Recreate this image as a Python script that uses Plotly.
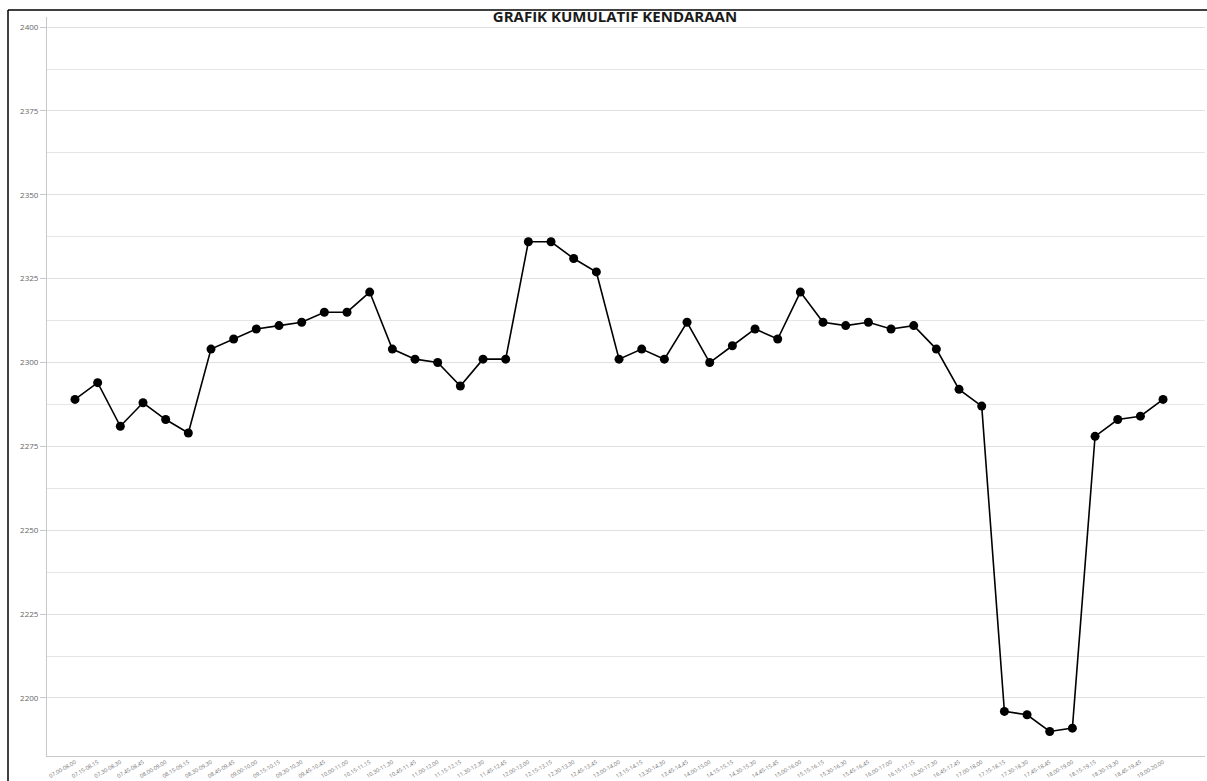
import plotly.graph_objects as go

# 15-minute rolling hourly intervals, 07.00-08.00 through 19.00-20.00
start_minutes = list(range(7 * 60, 19 * 60 + 1, 15))
interval_labels = [
    f"{m // 60:02d}.{m % 60:02d}-{(m + 60) // 60:02d}.{m % 60:02d}" for m in start_minutes
]

# Cumulative vehicle count per interval
kumulatif = [
    2289, 2294, 2281, 2288, 2283, 2279, 2304, 2307, 2310, 2311,
    2312, 2315, 2315, 2321, 2304, 2301, 2300, 2293, 2301, 2301,
    2336, 2336, 2331, 2327, 2301, 2304, 2301, 2312, 2300, 2305,
    2310, 2307, 2321, 2312, 2311, 2312, 2310, 2311, 2304, 2292,
    2287, 2196, 2195, 2190, 2191, 2278, 2283, 2284, 2289,
]

y_major_ticks = [2200, 2225, 2250, 2275, 2300, 2325, 2350, 2375, 2400]
y_minor_ticks = [2212.5, 2237.5, 2262.5, 2287.5, 2312.5, 2337.5, 2362.5, 2387.5]

fig = go.Figure()
fig.add_trace(
    go.Scatter(
        x=list(range(len(interval_labels))),
        y=kumulatif,
        mode="lines+markers",
        line=dict(color="#000000", width=1.6),
        marker=dict(color="#000000", size=9),
        showlegend=False,
        cliponaxis=False,
    )
)

fig.update_layout(
    width=1207,
    height=781,
    margin=dict(l=47, r=2, t=17, b=25),
    paper_bgcolor="#ffffff",
    plot_bgcolor="#ffffff",
    title=dict(
        text="<b>GRAFIK KUMULATIF KENDARAAN</b>",
        x=0.5095,
        xanchor="center",
        y=1 - 17 / 781,
        yanchor="middle",
        font=dict(family="Open Sans", size=15, color="#1a1a1a"),
    ),
    xaxis=dict(
        range=[-1.235, 49.85],
        tickmode="array",
        tickvals=list(range(len(interval_labels))),
        ticktext=interval_labels,
        tickangle=-30,
        tickfont=dict(family="Open Sans", size=5.5, color="#6e6e6e"),
        showgrid=False,
        zeroline=False,
        showline=True,
        linecolor="#c8c8c8",
        linewidth=1,
        ticks="",
    ),
    yaxis=dict(
        range=[2182.7, 2403.0],
        tickmode="array",
        tickvals=y_major_ticks,
        ticktext=[str(v) for v in y_major_ticks],
        tickfont=dict(family="Open Sans", size=8, color="#666666"),
        ticks="outside",
        ticklen=6,
        tickcolor="#c8c8c8",
        showgrid=True,
        gridcolor="#e0e0e0",
        gridwidth=1,
        minor=dict(
            tickmode="array",
            tickvals=y_minor_ticks,
            showgrid=True,
            gridcolor="#e6e6e6",
            gridwidth=1,
            ticks="",
        ),
        zeroline=False,
        showline=True,
        linecolor="#c8c8c8",
        linewidth=1,
    ),
)

# Dark frame around the chart block (top and left edges)
frame_left = (8 - 47) / 1158
frame_top = (756 - 10) / 739
fig.add_shape(
    type="line", xref="paper", yref="paper",
    x0=frame_left, x1=1.05, y0=frame_top, y1=frame_top,
    line=dict(color="#000000", width=1.5),
)
fig.add_shape(
    type="line", xref="paper", yref="paper",
    x0=frame_left, x1=frame_left, y0=frame_top, y1=-0.1,
    line=dict(color="#000000", width=1.5),
)

fig.write_html("out.html")
